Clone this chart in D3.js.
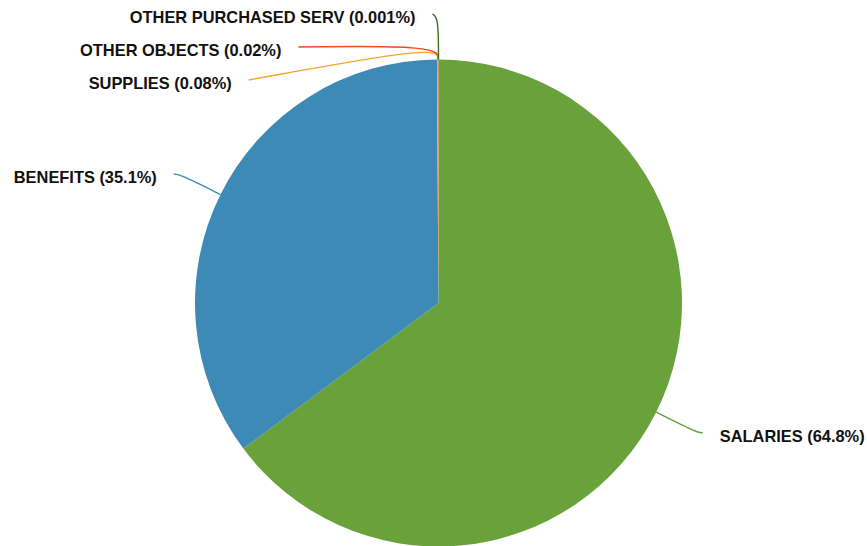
<!DOCTYPE html>
<html>
<head>
<meta charset="utf-8">
<script src="https://cdn.jsdelivr.net/npm/d3@7"></script>
<style>
  html, body { margin: 0; padding: 0; background: #ffffff; }
  svg { display: block; }
  .lbl { font-family: "Liberation Sans", Arial, Helvetica, sans-serif; font-weight: bold; font-size: 16.4px; fill: #111; }
</style>
</head>
<body>
<svg id="chart" width="867" height="546"></svg>
<script>
// Spending categories and their share of the total (percent)
const categories = ["SALARIES", "BENEFITS", "SUPPLIES", "OTHER OBJECTS", "OTHER PURCHASED SERV"];
const shares = [64.8, 35.1, 0.08, 0.02, 0.001];
const shareLabels = ["64.8%", "35.1%", "0.08%", "0.02%", "0.001%"];
const colors = ["#69a13b", "#3d8ab7", "#f5a52d", "#ec4a2b", "#3f6f1e"];

const width = 867, height = 546;
const cx = 438.5, cy = 303, radius = 243.5;
const labelRadius = 289;     // circle on which the leader lines end
const labelGap = 17;         // distance from line end to text
const minSpacing = 33;       // vertical spacing between stacked labels
const xMargin = 6;

const svg = d3.select("#chart");
const g = svg.append("g").attr("transform", `translate(${cx},${cy})`);

const data = categories.map((c, i) => ({ name: c, value: shares[i], label: shareLabels[i], color: colors[i], index: i }));

const pie = d3.pie().value(d => d.value).sort(null).startAngle(0).endAngle(2 * Math.PI);
const arcs = pie(data);
const arc = d3.arc().innerRadius(0).outerRadius(radius);

g.selectAll("path.slice")
  .data(arcs)
  .join("path")
  .attr("class", "slice")
  .attr("d", arc)
  .attr("fill", d => d.data.color);

// Initial label anchors on the label circle, along each slice's mid angle
const anchors = arcs.map(a => {
  const m = (a.startAngle + a.endAngle) / 2;
  return {
    arc: a,
    mid: m,
    side: Math.sin(m) < 0 ? "left" : "right",
    y: -labelRadius * Math.cos(m)
  };
});

// Resolve overlaps: stack labels on each side downward with a minimum spacing
["left", "right"].forEach(side => {
  const group = anchors.filter(a => a.side === side).sort((a, b) => a.y - b.y);
  for (let i = 1; i < group.length; i++) {
    if (group[i].y < group[i - 1].y + minSpacing) group[i].y = group[i - 1].y + minSpacing;
  }
});

anchors.forEach(a => {
  const dx = Math.sqrt(Math.max(0, labelRadius * labelRadius - a.y * a.y));
  a.x = a.side === "left" ? -dx - xMargin : dx + xMargin;
  // start point on the pie's edge
  a.sx = radius * Math.sin(a.mid);
  a.sy = -radius * Math.cos(a.mid);
  // control point pushed outward along the mid angle
  const ux = Math.sin(a.mid), uy = -Math.cos(a.mid);
  const proj = a.x * ux + a.y * uy;
  const ext = Math.max(14, proj - radius - 4);
  a.mx = (radius + ext) * ux;
  a.my = (radius + ext) * uy;
});

const line = d3.line().x(p => p[0]).y(p => p[1]).curve(d3.curveBasis);

g.selectAll("path.leader")
  .data(anchors)
  .join("path")
  .attr("class", "leader")
  .attr("d", a => line([[a.sx, a.sy], [a.mx, a.my], [a.x, a.y]]))
  .attr("fill", "none")
  .attr("stroke", a => a.arc.data.color)
  .attr("stroke-width", 1.4);

g.selectAll("text.lbl")
  .data(anchors)
  .join("text")
  .attr("class", "lbl")
  .attr("x", a => a.side === "left" ? a.x - labelGap : a.x + labelGap)
  .attr("y", a => a.y + 9)
  .attr("text-anchor", a => a.side === "left" ? "end" : "start")
  .text(a => `${a.arc.data.name} (${a.arc.data.label})`);
</script>
</body>
</html>
